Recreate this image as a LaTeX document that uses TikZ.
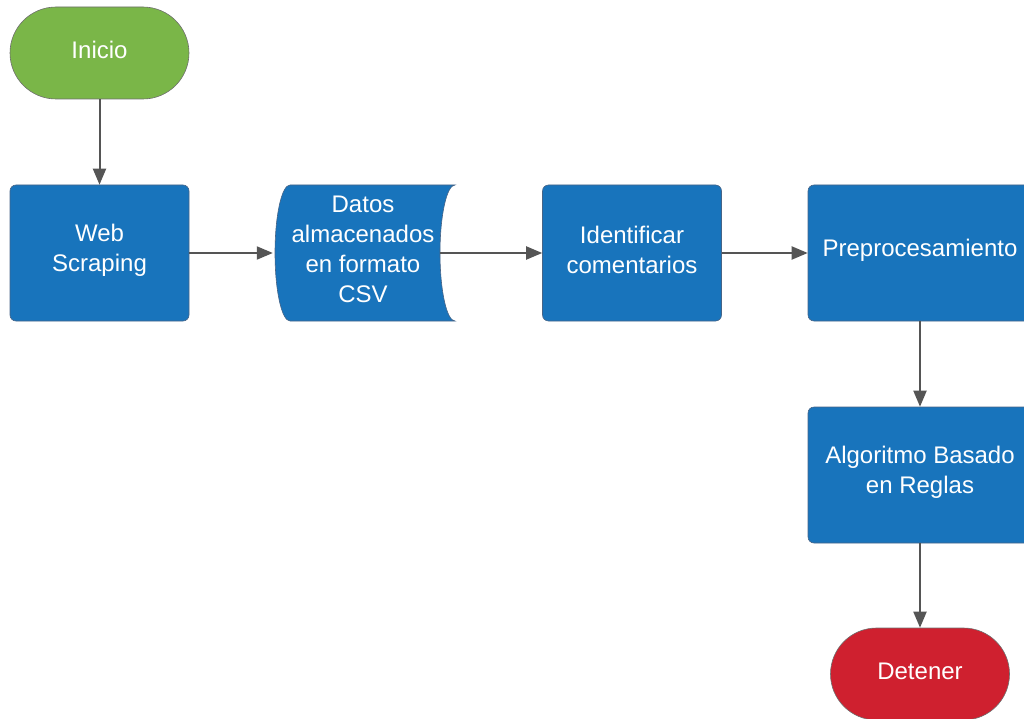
\documentclass[tikz,border=0pt]{standalone}
\usepackage{fontspec}
\setmainfont{Liberation Sans}
\usetikzlibrary{arrows.meta,shapes.misc}
\definecolor{procblue}{RGB}{24,116,188}
\definecolor{procedge}{RGB}{70,100,135}
\definecolor{startgreen}{RGB}{122,182,72}
\definecolor{stopred}{RGB}{207,32,47}
\definecolor{termedge}{RGB}{110,110,110}
\definecolor{flowgray}{RGB}{85,85,85}
\begin{document}
\begin{tikzpicture}[x=1pt,y=-1pt,
  label text/.style={text=white, align=center, font=\fontsize{24}{30}\selectfont},
  caption/.style={label={[label text, yshift=3pt]center:#1}},
  procbox/.style={rectangle, rounded corners=6pt, fill=procblue,
    draw=procedge, line width=0.6pt, minimum height=136pt, inner sep=0pt},
  terminal/.style={rounded rectangle, draw=termedge, line width=0.6pt,
    minimum width=179pt, minimum height=92pt, inner sep=0pt},
  flow/.style={draw=flowgray, line width=2pt,
    -{Triangle[length=16pt,width=13pt]}}]
\useasboundingbox (0,0) rectangle (1024,719);
\clip (0,0) rectangle (1024,719);

% terminals
\node[terminal, fill=startgreen, caption={Inicio}] (inicio) at (99.5,53) {};
\node[terminal, fill=stopred, caption={Detener}] (detener) at (920,674) {};

% process boxes
\node[procbox, minimum width=179pt, caption={Web\\Scraping}] (web) at (99.5,253) {};
\node[procbox, minimum width=179pt, caption={Identificar\\comentarios}] (ident) at (632,253) {};
\node[procbox, minimum width=224pt, caption={Preprocesamiento}] (prepro) at (920,253) {};
\node[procbox, minimum width=224pt, caption={Algoritmo Basado\\en Reglas}] (algo) at (920,475) {};

% stored-data shape: convex left side, concave right side
\filldraw[fill=procblue, draw=procedge, line width=0.6pt]
  (290,185) -- (455,185)
  .. controls (446.7,185) and (440,215.4) .. (440,253)
  .. controls (440,290.6) and (446.7,321) .. (455,321)
  -- (290,321)
  .. controls (281.7,321) and (275,290.6) .. (275,253)
  .. controls (275,215.4) and (281.7,185) .. (290,185) -- cycle;
\node[label text, minimum width=180pt, minimum height=136pt, inner sep=0pt]
  (datos) at (363,249) {Datos\\almacenados\\en formato\\CSV};

% connectors
\draw[flow] (inicio.south) -- (web.north);
\draw[flow] (web.east) -- (datos.west |- web.east);
\draw[flow] ([xshift=-13pt]datos.east |- web.east) -- (ident.west);
\draw[flow] (ident.east) -- (prepro.west);
\draw[flow] (prepro.south) -- (algo.north);
\draw[flow] (algo.south) -- (detener.north);
\end{tikzpicture}
\end{document}
